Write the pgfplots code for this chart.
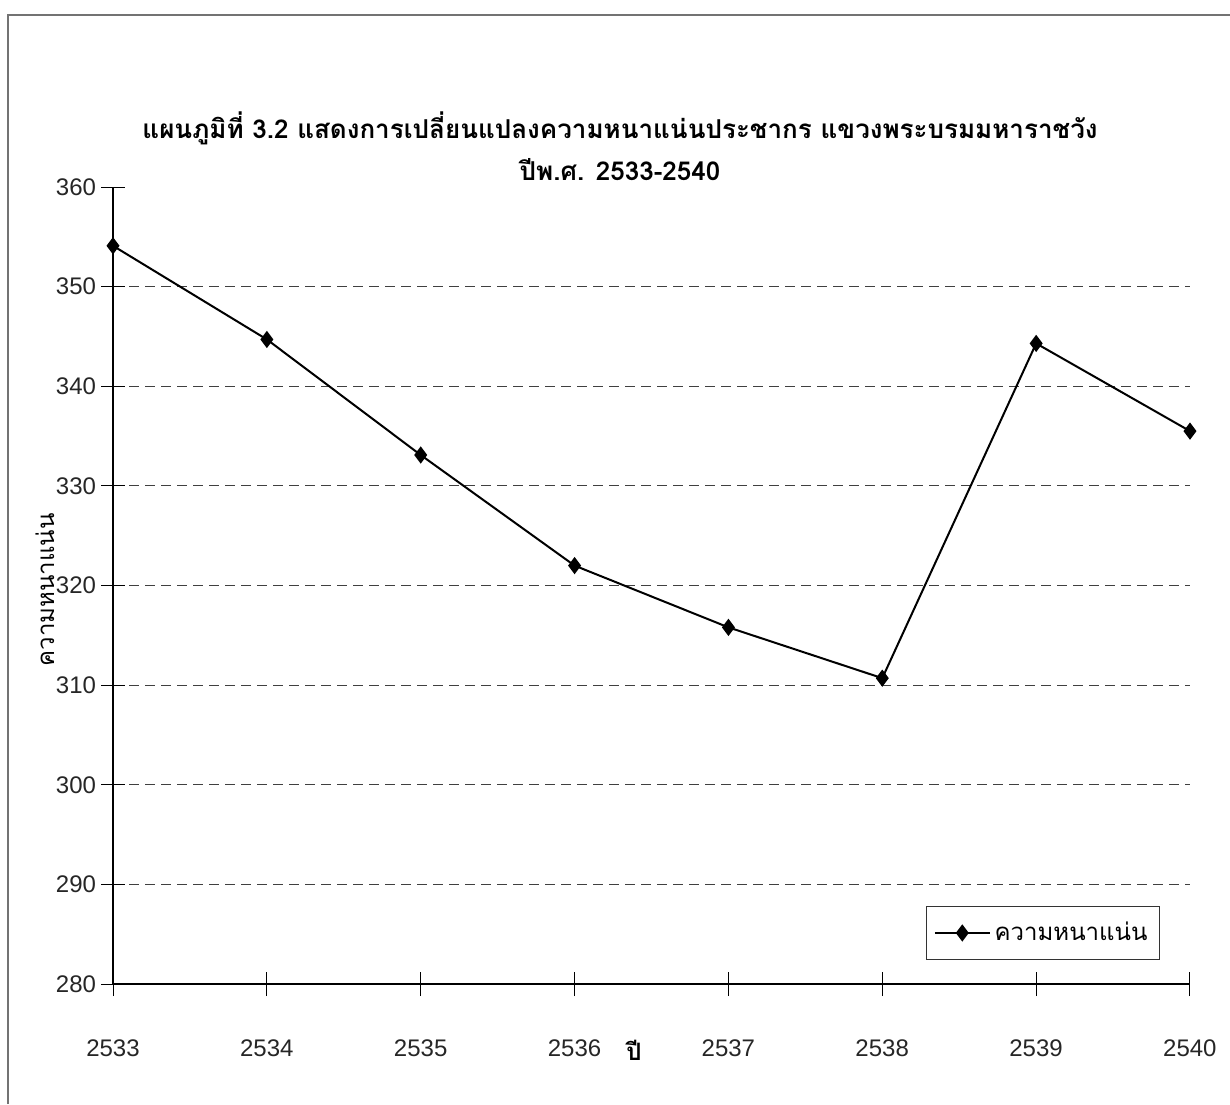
\documentclass[border=0pt]{standalone}
\usepackage{pgfplots}
\pgfplotsset{compat=1.18}
\usepackage{fontspec}
\setmainfont{Liberation Sans}
\newfontfamily\thai[Script=Thai]{Loma}

\begin{document}
\begin{tikzpicture}
% page area: 1230x1104 px at 0.5pt per px
\path[use as bounding box] (0pt,0pt) rectangle (615pt,-552pt);
% scanned frame
\draw[black!55, line width=0.8pt] (4pt,-552pt) -- (4pt,-7.5pt) -- (615pt,-7.5pt);

\begin{axis}[
    at={(56.5pt,-492pt)}, anchor=south west,
    scale only axis,
    width=538.5pt, height=398.5pt,
    xmin=2533, xmax=2540,
    ymin=280, ymax=360,
    enlargelimits=false,
    clip=false,
    axis x line=bottom, axis y line=left,
    axis line style={-, line width=0.6pt},
    xtick={2533,...,2540},
    ytick={280,290,...,350},
    extra y ticks={360},
    extra tick style={grid=none},
    tick align=center,
    major tick length=12pt,
    tick style={line width=0.5pt, black},
    ymajorgrids,
    major grid style={dashed, dash pattern=on 5pt off 3pt, black!75, line width=0.5pt},
    /pgf/number format/set thousands separator={},
    /pgf/number format/assume math mode=true,
    ticklabel style={font=\fontsize{12}{14}\selectfont, black!85},
    xticklabel style={yshift=-18.5pt},
    yticklabel style={xshift=1pt},
    legend style={at={(0.972,0.03)}, anchor=south east, draw=black!80,
        font=\thai\fontsize{12}{14}\selectfont, inner xsep=4pt, inner ysep=6pt},
    legend image code/.code={
        \draw[mark repeat=2, mark phase=2] plot coordinates {(0cm,0cm) (0.48cm,0cm) (0.96cm,0cm)};
    },
    legend cell align=left,
]
\addplot[black, line width=1pt, mark=diamond*, mark size=3.5pt] coordinates {
    (2533,354.1) (2534,344.7) (2535,333.1) (2536,322.0)
    (2537,315.8) (2538,310.7) (2539,344.3) (2540,335.5)
};
\addlegendentry{ความหนาแน่น}
\end{axis}

% titles
\node[font=\thai\bfseries\fontsize{13}{15}\selectfont] at (310pt,-64pt)
    {แผนภูมิที่ 3.2 แสดงการเปลี่ยนแปลงความหนาแน่นประชากร แขวงพระบรมมหาราชวัง};
\node[font=\thai\bfseries\fontsize{13}{15}\selectfont] at (310pt,-85pt)
    {ปีพ.ศ. 2533-2540};
% axis labels
\node[font=\thai\fontsize{12}{14}\selectfont, rotate=90] at (22.5pt,-295pt)
    {ความหนาแน่น};
\node[font=\thai\bfseries\fontsize{12}{14}\selectfont] at (317pt,-525pt) {ปี};
\end{tikzpicture}
\end{document}
